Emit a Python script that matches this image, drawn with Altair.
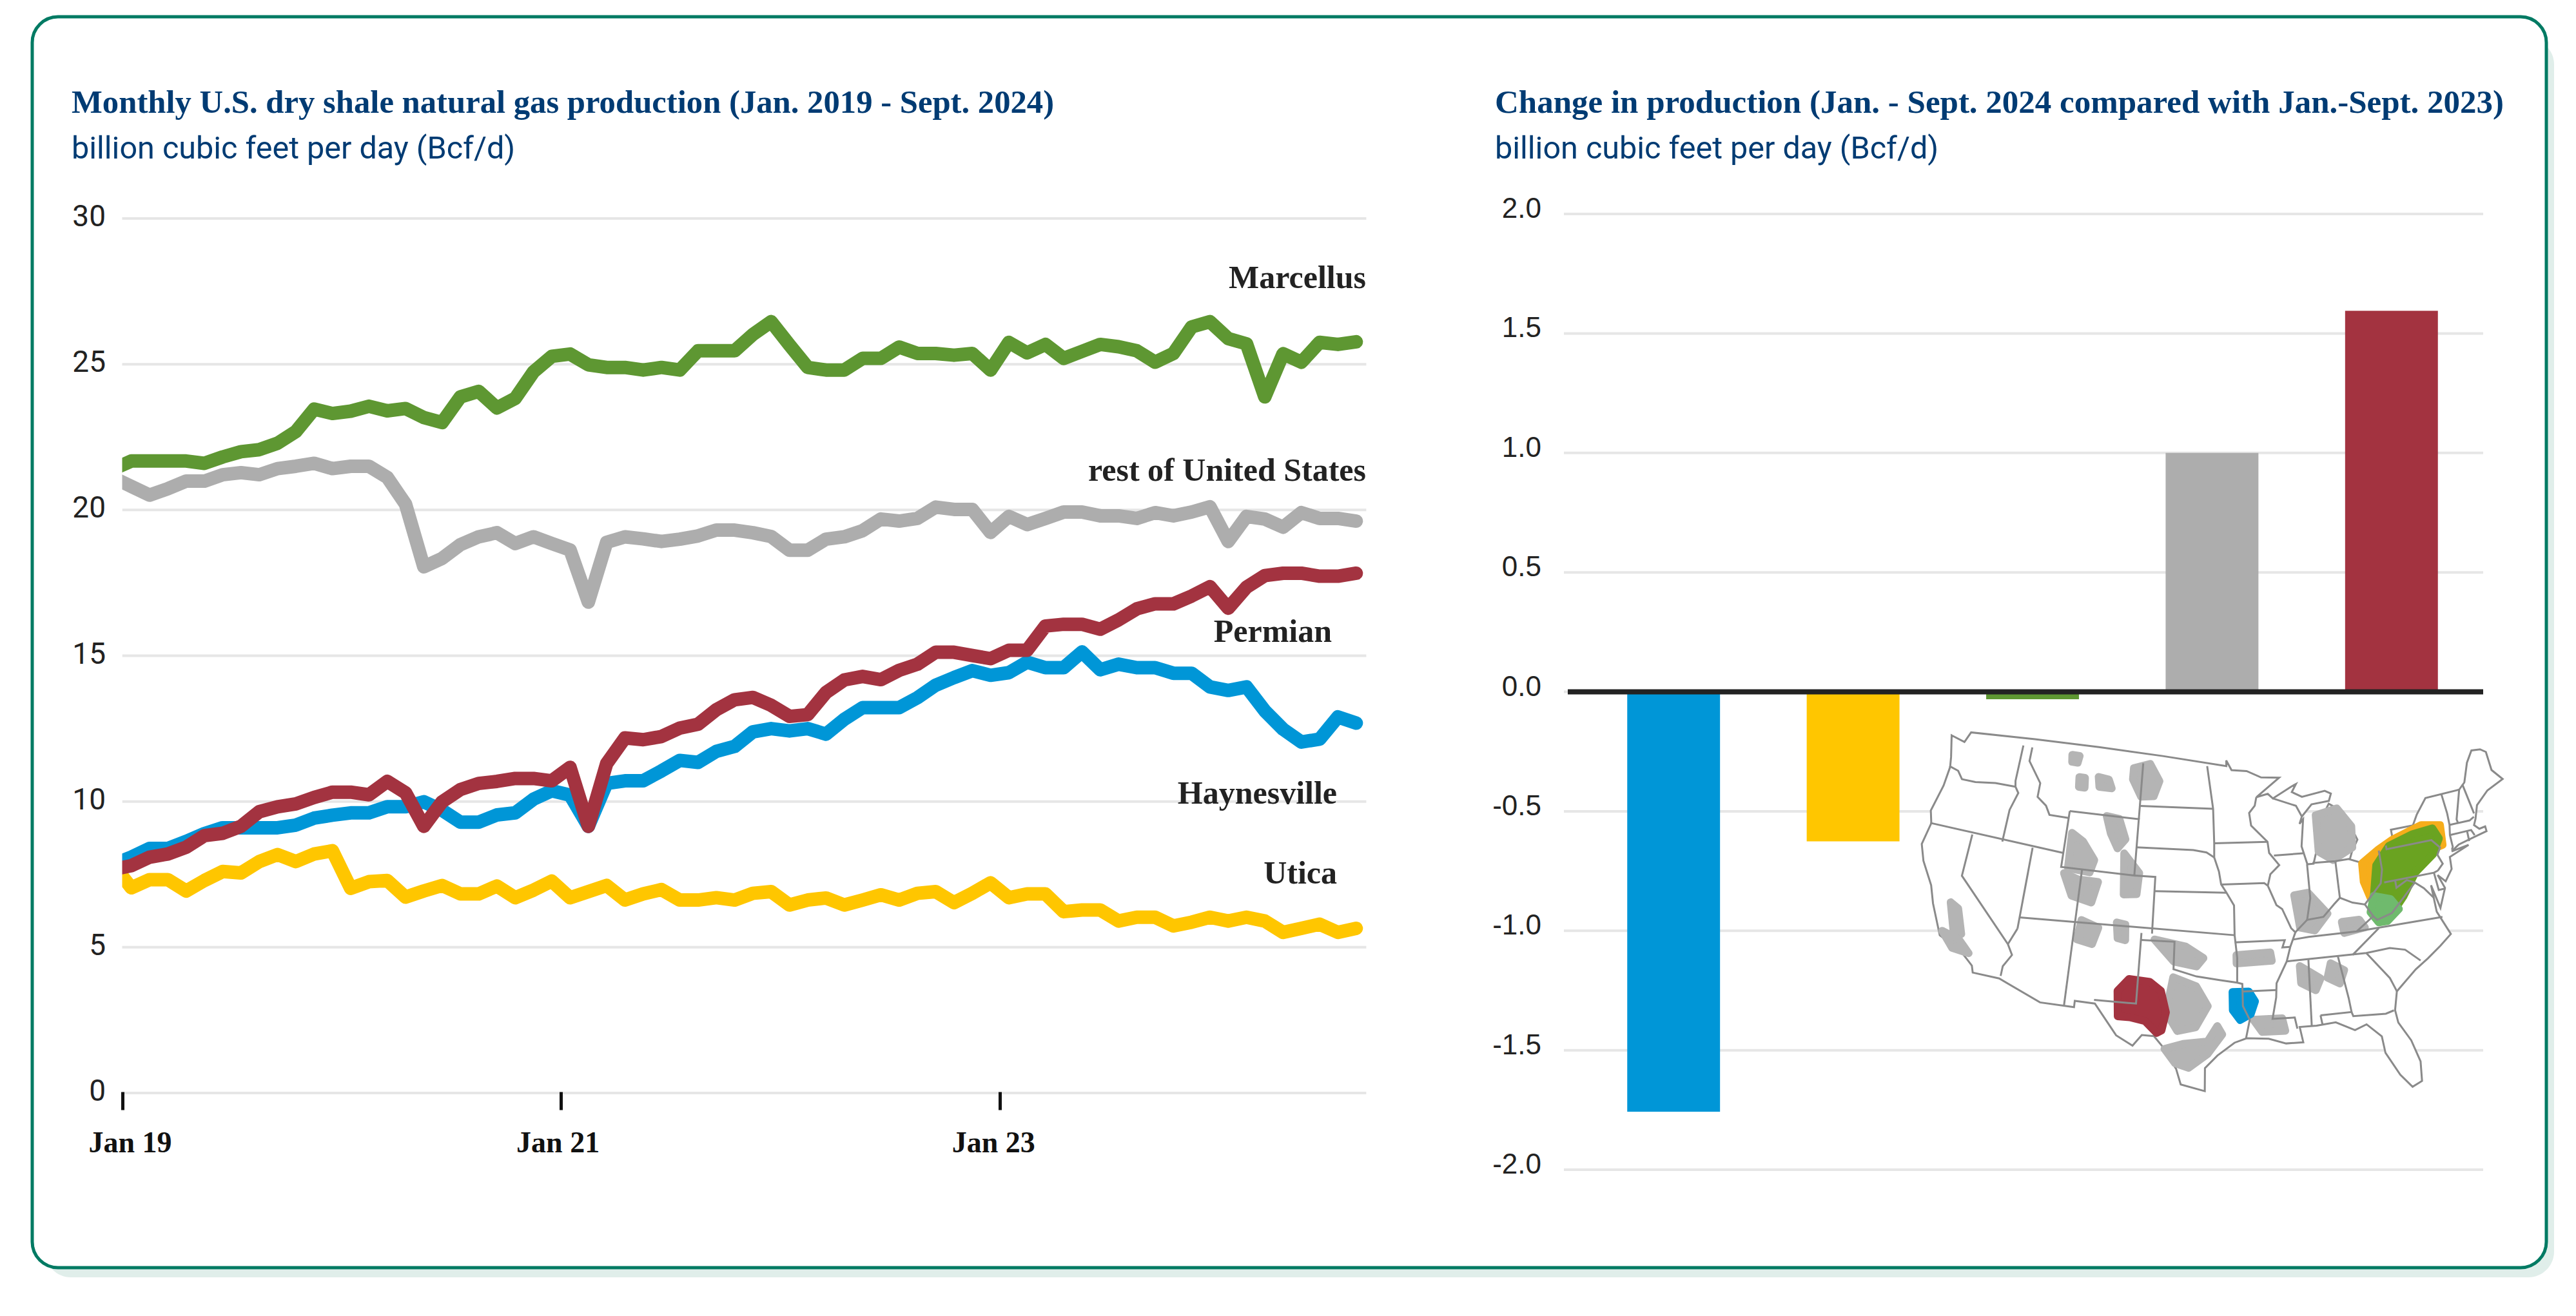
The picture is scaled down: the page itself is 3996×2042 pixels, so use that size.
import altair as alt
import pandas as pd

# ---------- data ----------
MARCELLUS = [21.4,21.68,21.68,21.68,21.68,21.6,21.82,22.0,22.07,22.29,22.69,23.46,23.31,23.39,23.56,23.4,23.48,23.17,23.0,23.88,24.07,23.5,23.83,24.74,
             25.27,25.35,24.98,24.89,24.89,24.8,24.89,24.8,25.46,25.46,25.46,26.02,26.46,25.66,24.89,24.8,24.8,25.2,25.2,25.59,25.37,25.37,
             25.31,25.37,24.8,25.75,25.39,25.68,25.2,25.44,25.68,25.6,25.46,25.07,25.37,26.28,26.46,25.88,25.7,23.88,25.36,25.07,25.75,25.68,25.77]
REST = [21.11,20.81,20.51,20.73,20.99,20.99,21.21,21.28,21.21,21.42,21.5,21.6,21.42,21.5,21.5,21.12,20.2,18.05,18.34,18.81,19.08,19.22,18.85,19.08,
        18.85,18.63,16.84,18.89,19.08,19.01,18.92,19.0,19.11,19.31,19.31,19.22,19.09,18.62,18.62,19.0,19.08,19.29,19.69,19.62,19.71,20.1,
        20.02,20.02,19.23,19.78,19.5,19.71,19.93,19.93,19.8,19.8,19.71,19.91,19.8,19.93,20.11,18.92,19.78,19.69,19.41,19.91,19.71,19.71,19.62]
HAYNESVILLE = [7.84,8.09,8.39,8.39,8.63,8.9,9.1,9.1,9.1,9.1,9.19,9.43,9.53,9.61,9.61,9.82,9.82,9.99,9.7,9.29,9.29,9.54,9.61,10.08,
               10.37,10.22,9.15,10.62,10.71,10.71,11.05,11.41,11.34,11.72,11.89,12.39,12.5,12.42,12.5,12.31,12.82,13.22,13.22,13.22,13.56,13.99,
               14.25,14.49,14.33,14.42,14.78,14.59,14.59,15.13,14.52,14.71,14.59,14.59,14.4,14.4,13.93,13.81,13.93,13.11,12.48,12.04,12.14,12.9,12.69]
PERMIAN = [7.67,7.8,8.09,8.2,8.43,8.83,8.91,9.15,9.65,9.82,9.92,10.14,10.32,10.32,10.23,10.69,10.3,9.15,9.99,10.41,10.62,10.69,10.79,10.79,
           10.71,11.17,9.15,11.3,12.18,12.12,12.23,12.52,12.65,13.15,13.49,13.57,13.3,12.92,12.98,13.74,14.17,14.29,14.18,14.5,14.71,15.12,
           15.12,15.01,14.9,15.19,15.19,16.02,16.08,16.08,15.91,16.23,16.61,16.78,16.78,17.05,17.37,16.63,17.35,17.75,17.83,17.83,17.73,17.73,17.83]
UTICA = [7.84,7.04,7.32,7.32,6.93,7.29,7.6,7.55,7.94,8.18,7.94,8.2,8.31,7.02,7.25,7.29,6.72,6.93,7.12,6.83,6.83,7.1,6.7,6.96,
         7.27,6.7,6.91,7.12,6.62,6.83,6.98,6.62,6.62,6.7,6.62,6.85,6.91,6.45,6.62,6.69,6.45,6.62,6.8,6.62,6.85,6.91,
         6.53,6.85,7.21,6.7,6.83,6.83,6.22,6.28,6.28,5.9,6.03,6.03,5.73,5.86,6.03,5.9,6.03,5.9,5.51,5.65,5.79,5.51,5.65]

REGIONS = ["Haynesville", "Utica", "Marcellus", "rest of United States", "Permian"]
CHANGE = [-1.757, -0.626, -0.031, 1.0, 1.595]
COLORS = ["#0096d7", "#ffc600", "#5e9732", "#adadad", "#a33340"]

LEFT_TICKS = [0, 5, 10, 15, 20, 25, 30]
LEFT_LABELS = ["0", "5", "10", "15", "20", "25", "30"]
RIGHT_TICKS = [-2.0, -1.5, -1.0, -0.5, 0.0, 0.5, 1.0, 1.5, 2.0]
RIGHT_LABELS = ["-2.0", "-1.5", "-1.0", "-0.5", "0.0", "0.5", "1.0", "1.5", "2.0"]
X_TICKS = [0.5, 24.5, 48.5]   # the source ticks sit half a month after the January point

TITLE_L = "Monthly U.S. dry shale natural gas production (Jan. 2019 -  Sept. 2024)"
TITLE_R = "Change in production (Jan. - Sept. 2024 compared with Jan.-Sept. 2023)"
SUB = "billion cubic feet per day (Bcf/d)"

# Inset map, lon/lat traced by eye
US = [(-124.7,48.4),(-123.2,48.2),(-122.8,49.0),(-95.15,49.0),(-95.15,49.4),(-94.6,48.7),(-93,48.6),(-91.5,48.1),(-89.6,48.0),(-92.1,46.7),(-90.9,46.9),(-90.4,46.55),(-88.4,47.3),(-87.9,47.45),(-88.4,46.9),(-87.4,46.5),(-85,46.75),(-84.4,46.5),(-84.7,46.0),(-86.5,45.9),(-87.6,45.1),(-87.9,44.6),(-87.5,44.9),(-87.9,43),(-87.5,41.7),(-86.9,41.7),(-86.3,43),(-86.5,44),(-85.5,45),(-84.75,45.8),(-83.4,45.1),(-83.4,44),(-83.9,43.7),(-82.9,44.05),(-82.4,43),(-83.1,42.2),(-83.4,41.7),(-82.5,41.4),(-81.2,41.8),(-79,42.7),(-79,43.3),(-76.8,43.3),(-76.2,44.0),(-75,45),(-71.5,45),(-70.8,45.4),(-70,46.7),(-69.2,47.45),(-68.3,47.35),(-67.8,47.05),(-67.8,45.7),(-67,44.85),(-68.8,44.4),(-70.2,43.6),(-70.7,42.7),(-71,42.3),(-70.6,41.95),(-70,42),(-70.0,41.65),(-71.2,41.5),(-72.9,41.25),(-73.7,40.9),(-72,41.05),(-74,40.55),(-74.1,39.7),(-74.9,38.95),(-75.5,39.5),(-75.1,38.5),(-75.9,37.2),(-76.3,38.9),(-76.3,37),(-75.5,35.25),(-76.6,34.6),(-77.9,33.9),(-79.1,33.3),(-81,32),(-81.4,30.7),(-81.3,29.8),(-80.5,28.4),(-80.05,26.8),(-80.2,25.4),(-81,25.1),(-81.8,26.1),(-82.7,27.8),(-82.8,29),(-83.9,30),(-84.9,29.7),(-86.4,30.4),(-88,30.3),(-89.4,30.3),(-89.2,29.2),(-90.6,29.2),(-92,29.6),(-93.8,29.7),(-94.8,29.4),(-96.2,28.5),(-97.2,27.6),(-97.2,25.95),(-99.1,26.4),(-99.5,27.5),(-100.7,29.1),(-101.4,29.77),(-102.4,29.8),(-103.1,29),(-104.5,29.65),(-106.5,31.75),(-108.2,31.78),(-108.2,31.33),(-111.07,31.33),(-114.8,32.5),(-117.1,32.53),(-117.3,33),(-118.4,33.75),(-120.6,34.55),(-121.9,36.6),(-122.5,37.8),(-123.8,39.3),(-124.4,40.4),(-124.1,42),(-124.5,42.85),(-124,44.8),(-123.9,46.2),(-124.1,46.9)]
BORDERS = [
 [(-124,46.25),(-123,46.1),(-122.4,45.6),(-121,45.65),(-119,45.93),(-116.92,46)],
 [(-117.03,49),(-117.04,46.4),(-116.92,46),(-116.5,45.6),(-117,44.3),(-117.03,42)],
 [(-124.2,42),(-111.05,42)],
 [(-120,42),(-120,39),(-114.63,35),(-114.1,34.3),(-114.7,33.4),(-114.72,32.7)],
 [(-114.63,35),(-114.05,36.2)],
 [(-114.05,42),(-114.05,36.2)],
 [(-114.05,37),(-94.62,37)],
 [(-116.05,49),(-116.05,48),(-114.5,46.6),(-114.5,45.6),(-113.5,45.1),(-113,44.5),(-111.05,44.5)],
 [(-111.05,45),(-104.05,45),(-104.05,41),(-111.05,41),(-111.05,45)],
 [(-109.05,41),(-109.05,31.33)],
 [(-104.05,41),(-102.05,41),(-102.05,37)],
 [(-103.0,37),(-103.05,32),(-106.6,32)],
 [(-103,36.5),(-100,36.5),(-100,34.56),(-98,34.1),(-96,33.85),(-94.48,33.65),(-94.04,33.55),(-94.04,31.99),(-93.5,31),(-93.85,29.7)],
 [(-94.62,37),(-94.43,35.4),(-94.48,33.65)],
 [(-104.05,49),(-104.05,45)],
 [(-104.05,45.94),(-96.56,45.94)],
 [(-104.05,43),(-98.5,43),(-97.2,42.85),(-96.45,42.5)],
 [(-102.05,40),(-95.3,40)],
 [(-97.2,49),(-96.56,45.94),(-96.45,43.5),(-96.45,42.5),(-96,41.5),(-95.8,40.6),(-95.3,40),(-94.62,39.1),(-94.62,37)],
 [(-96.45,43.5),(-91.2,43.5)],
 [(-95.77,40.58),(-91.73,40.6),(-91.4,40.4)],
 [(-94.62,36.5),(-90.15,36.5),(-90.4,36),(-89.7,36)],
 [(-92.1,46.7),(-92.3,46.1),(-92.9,45.6),(-92.75,44.7),(-91.2,43.5),(-91.1,42.7),(-90.2,41.8),(-91.1,41.2),(-91.4,40.4),(-90.7,39),(-90.2,38.7),(-89.5,37.3),(-89.15,37),(-89.7,36),(-90.1,35),(-91.1,33.5),(-91.2,32.5),(-91.6,31),(-89.75,31),(-89.6,30.2)],
 [(-94.04,33.02),(-91.2,33.02)],
 [(-90.65,42.5),(-87.8,42.5)],
 [(-90.4,46.55),(-88.1,45.9),(-87.6,45.1)],
 [(-87.53,41.7),(-87.53,39.3),(-88,37.8)],
 [(-89.15,37),(-88,37.8),(-86.5,37.9),(-85.4,38.7),(-84.8,39.1),(-83.7,38.65),(-82.6,38.4),(-81.8,39),(-80.85,39.7),(-80.52,40.64),(-80.52,42)],
 [(-84.8,39.1),(-84.8,41.7)],
 [(-87,41.76),(-84.8,41.7),(-83.45,41.73)],
 [(-79.76,42.27),(-79.76,42),(-75.35,42),(-74.7,41.36),(-75.1,40.9),(-74.8,40.2),(-75.4,39.8)],
 [(-80.52,39.72),(-75.79,39.72),(-75.4,39.8)],
 [(-75.79,39.72),(-75.7,38.46),(-75.05,38.46)],
 [(-79.48,39.72),(-79.48,39.2),(-78.4,39.6),(-77.72,39.32),(-77,38.8),(-76.3,38)],
 [(-77.72,39.32),(-78.9,38.5),(-80.3,37.5),(-81.7,37.2),(-82,37.5),(-82.6,38.4)],
 [(-82,37.5),(-83.68,36.6)],
 [(-89.4,36.5),(-88,36.6),(-83.68,36.6),(-75.9,36.55)],
 [(-90.1,35),(-83.1,35),(-81,35.1),(-79.7,34.8),(-78.55,33.85)],
 [(-81.68,36.6),(-84.3,35)],
 [(-83.1,35),(-81.4,33),(-81,32)],
 [(-88.2,35),(-88.4,30.3)],
 [(-85.6,35),(-85.1,32),(-85,31)],
 [(-87.6,31),(-85,31),(-84.9,30.7),(-82.2,30.55),(-81.5,30.7)],
 [(-87.6,31),(-87.5,30.3)],
 [(-73.35,45),(-73.25,43.6),(-73.3,42.75),(-73.5,42.05),(-73.5,41.2),(-73.65,41)],
 [(-71.5,45),(-72.5,43),(-72.45,42.73)],
 [(-73.3,42.75),(-71.3,42.7),(-70.8,42.87)],
 [(-73.5,42.05),(-71.4,42.02),(-71.2,41.6)],
 [(-71.8,42.02),(-71.85,41.3)],
 [(-71.05,45.3),(-70.7,43.1)],
]
GRAY_BLOBS = [
 [(-105,48.6),(-103.3,49),(-102.2,47.8),(-102.7,46.7),(-104,46.6),(-105,47.8)],
 [(-111.7,49),(-110.9,49),(-111,48.5),(-111.6,48.5)],
 [(-110.6,47.5),(-110,47.5),(-109.9,46.8),(-110.5,46.8)],
 [(-108.6,47.7),(-107.5,47.6),(-107.1,47),(-108.4,47)],
 [(-107.3,45),(-106,44.9),(-105.2,43.5),(-105.9,42.8),(-106.7,43.8)],
 [(-110.5,43.5),(-109.3,43),(-108,41.8),(-108.3,40.9),(-110.4,41)],
 [(-110.7,40.6),(-109.3,40.3),(-107.4,40.3),(-107.8,38.8),(-109.7,39.1)],
 [(-108.5,37.5),(-106.9,37.1),(-107.3,35.9),(-108.7,36.1)],
 [(-105.2,42.5),(-103.6,41.2),(-103.7,39.7),(-104.9,39.6)],
 [(-105.3,37.6),(-104.5,37.5),(-104.4,36.4),(-105.1,36.5)],
 [(-101.8,36.6),(-99,36.2),(-97.4,35.4),(-98,34.8),(-100,35.1)],
 [(-94.5,35.6),(-91.5,35.7),(-91.4,35.1),(-94.5,35)],
 [(-100,34),(-98,33.4),(-97,32),(-98,30.5),(-99.5,30.2),(-100.5,31.5)],
 [(-100.5,28.9),(-99,29.3),(-97,29.5),(-96.2,30.6),(-95.8,30),(-97,28.6),(-98.5,27.6),(-99.6,27.9)],
 [(-93.2,31),(-90.8,31),(-90.6,30.1),(-92.5,30.1)],
 [(-89,34.6),(-87.3,33.6),(-87.8,32.8),(-89,33.4)],
 [(-86.3,34.6),(-85.2,34),(-85.7,33.1),(-86.7,33.6)],
 [(-86.2,45.1),(-84,45.4),(-82.8,44),(-83,42.5),(-85,41.8),(-86.3,42.5)],
 [(-89,39.6),(-87.7,39.7),(-86.1,38.1),(-87.4,37),(-88.7,37.3)],
 [(-84.9,37.4),(-83.3,37.4),(-82.9,36.8),(-84.8,36.6)],
 [(-120.4,37),(-119.6,36.7),(-118.8,35),(-119.5,35)],
 [(-120.5,34.9),(-118.9,34.6),(-117.8,33.8),(-119.3,33.9)],
]
UTICA_BLOB = [(-82.3,41.3),(-80.5,42.1),(-79,42.6),(-76,43.2),(-74.2,42.9),(-74.4,41.5),(-78,41),(-80,39.5),(-81,38.4),(-82,38.8),(-82.4,40)]
MARCELLUS_BLOB = [(-81.7,38.8),(-81,41),(-79.5,42.2),(-77,42.7),(-75,42.8),(-74.6,42),(-75.5,41),(-77.5,40),(-79,38.5),(-80,37.7)]
MARCELLUS_SOUTH = [(-82.2,37.8),(-81.7,38.9),(-80.2,38.5),(-79.6,37.7),(-80.8,37),(-81.6,37)]
PERMIAN_BLOB = [(-104.7,32.8),(-103.8,33.7),(-102,33.6),(-101,33),(-100.5,31.5),(-100.8,30.2),(-101.2,30),(-102.2,30.8),(-103.5,31),(-104.5,31)]
HAYNESVILLE_BLOB = [(-94.9,33),(-93.5,33),(-93,32.3),(-93.4,31.4),(-94.3,31),(-94.9,31.7)]


# ---------- helpers ----------
def ring(points):
    """GeoJSON ring, wound clockwise as d3-geo expects for a small polygon."""
    area = sum(a[0] * b[1] - b[0] * a[1] for a, b in zip(points, points[1:] + points[:1]))
    pts = list(points) if area < 0 else list(reversed(points))
    return [list(p) for p in pts + pts[:1]]


def polygons(rings):
    return alt.Data(values=[{"type": "Feature", "properties": {},
                             "geometry": {"type": "Polygon", "coordinates": [ring(r)]}} for r in rings])


def line_features(lines):
    return alt.Data(values=[{"type": "Feature", "properties": {},
                             "geometry": {"type": "LineString", "coordinates": [list(p) for p in l]}} for l in lines])


ONE = alt.Data(values=[{"a": 1}])
W, H = 3980, 2026
OFF = 8  # page margin


def label(text, x, y, font, size, color, weight="normal", align="left"):
    return alt.Chart(ONE).mark_text(font=font, fontSize=size, fontWeight=weight, color=color,
                                    align=align, baseline="alphabetic").encode(
        x=alt.value(x - OFF), y=alt.value(y - OFF), text=alt.value(text))


# ---------- card ----------
shadow = alt.Chart(ONE).mark_rect(cornerRadius=40, color="#e0eeea").encode(
    x=alt.value(70 - OFF), x2=alt.value(3962 - OFF), y=alt.value(60 - OFF), y2=alt.value(1982 - OFF))
card = alt.Chart(ONE).mark_rect(cornerRadius=40, fill="white", stroke="#007a63", strokeWidth=5).encode(
    x=alt.value(50 - OFF), x2=alt.value(3950 - OFF), y=alt.value(26 - OFF), y2=alt.value(1967 - OFF))

# ---------- left panel ----------
SER_SCALE = alt.Scale(domain=REGIONS, range=COLORS)
lx = alt.Scale(domain=[0.5, 68.55], range=[189.5 - OFF, 2119.4 - OFF], nice=False, zero=False)
ly = alt.Scale(domain=[0, 30], range=[1696 - OFF, 339 - OFF], nice=False)
long = pd.DataFrame(
    [{"i": i, "v": v, "s": name}
     for name, vals in [("rest of United States", REST), ("Marcellus", MARCELLUS), ("Utica", UTICA),
                        ("Haynesville", HAYNESVILLE), ("Permian", PERMIAN)]
     for i, v in enumerate(vals)])
left_tick_df = pd.DataFrame({"v": LEFT_TICKS, "t": LEFT_LABELS})

left_grid = alt.Chart(left_tick_df).mark_rule(color="#e6e6e6", strokeWidth=4).encode(
    y=alt.Y("v:Q", scale=ly, axis=None),
    x=alt.value(189.5 - OFF), x2=alt.value(2119.4 - OFF))
left_tick_labels = alt.Chart(left_tick_df).mark_text(
    font="Roboto", fontSize=46, color="#222222", align="right", baseline="middle", dy=-2).encode(
    y=alt.Y("v:Q", scale=ly, axis=None), x=alt.value(164 - OFF), text="t:N")
left_lines = alt.Chart(long).mark_line(strokeWidth=21, strokeCap="round", strokeJoin="round").encode(
    x=alt.X("i:Q", scale=lx,
            axis=alt.Axis(orient="bottom", offset=-(H - (1694 - OFF)), title=None, values=X_TICKS, domain=False, grid=False, zindex=1,
                          tickColor="#111111", tickWidth=5, tickSize=28, labelPadding=29, labelFlush=False,
                          labelExpr="datum.value < 1 ? 'Jan 19' : datum.value < 25 ? 'Jan 21' : 'Jan 23'",
                          labelOffset=alt.expr("datum.value < 1 ? 12 : datum.value < 25 ? -5 : -10"),
                          labelFont="Liberation Serif", labelFontWeight="bold", labelFontSize=46, labelColor="#111111")),
    y=alt.Y("v:Q", scale=ly, axis=None),
    color=alt.Color("s:N", scale=SER_SCALE, legend=None),
    detail="s:N")
left_mask = alt.Chart(ONE).mark_rect(color="white").encode(
    x=alt.value(164 - OFF), x2=alt.value(189.5 - OFF), y=alt.value(690 - OFF), y2=alt.value(1420 - OFF))

NAVY = "#003b73"
DARK = "#222222"
SERIF = "Liberation Serif"
left_texts = [
    label(TITLE_L, 111, 175, SERIF, 50.7, NAVY, "bold"),
    label(SUB, 111, 246, "Roboto", 48.5, NAVY),
    label("Marcellus", 2119, 447, SERIF, 50, DARK, "bold", "right"),
    label("rest of United States", 2119, 746, SERIF, 50, DARK, "bold", "right"),
    label("Permian", 2066, 996, SERIF, 50, DARK, "bold", "right"),
    label("Haynesville", 2074, 1247, SERIF, 50, DARK, "bold", "right"),
    label("Utica", 2074, 1371, SERIF, 50, DARK, "bold", "right"),
]
left = alt.layer(left_grid, left_lines, left_mask, left_tick_labels, *left_texts)

# ---------- right panel ----------
rx = alt.Scale(domain=REGIONS, range=[2457 - OFF, 3849 - OFF], paddingInner=0.483, paddingOuter=0.2415)
ry = alt.Scale(domain=[-2, 2], range=[1815 - OFF, 332 - OFF], nice=False)
bars_df = pd.DataFrame({"region": REGIONS, "change": CHANGE})
right_tick_df = pd.DataFrame({"v": RIGHT_TICKS, "t": RIGHT_LABELS})

right_grid = alt.Chart(right_tick_df).mark_rule(color="#e6e6e6", strokeWidth=4).encode(
    y=alt.Y("v:Q", scale=ry, axis=None),
    x=alt.value(2426 - OFF), x2=alt.value(3852 - OFF))
right_tick_labels = alt.Chart(right_tick_df).mark_text(
    font="Liberation Sans", fontSize=44, color="#222222", align="right", baseline="middle", dy=-7).encode(
    y=alt.Y("v:Q", scale=ry, axis=None), x=alt.value(2391 - OFF), text="t:N")
bars = alt.Chart(bars_df).mark_bar().encode(
    x=alt.X("region:N", sort=REGIONS, scale=rx, axis=None),
    y=alt.Y("change:Q", scale=ry, axis=None),
    color=alt.Color("region:N", scale=SER_SCALE, legend=None))
zero = alt.Chart(pd.DataFrame({"v": [0]})).mark_rule(color="#222222", strokeWidth=8).encode(
    y=alt.Y("v:Q", scale=ry, axis=None), x=alt.value(2432 - OFF), x2=alt.value(3852 - OFF))

PROJ = alt.Projection(type="albers", rotate=[96.5, 0], center=[0, 38.7], parallels=[29.5, 45.5],
                      scale=1250, translate=[3426, 1406])


def geo(data, **mark):
    return alt.Chart(data).mark_geoshape(**mark).project(**PROJ.to_dict())


def blob(rings, color):
    return geo(polygons(rings), fill=color, stroke=color, strokeWidth=12, strokeJoin="round")


us_map = alt.layer(
    geo(polygons([US]), fill="white", stroke="#8a8a8a", strokeWidth=3),
    blob(GRAY_BLOBS, "#b4b4b4"),
    blob([UTICA_BLOB], "#f6ad1b"),
    blob([MARCELLUS_BLOB], "#6aa321"),
    blob([MARCELLUS_SOUTH], "#6fba6d"),
    blob([PERMIAN_BLOB], "#a33340"),
    blob([HAYNESVILLE_BLOB], "#0096d7"),
    geo(line_features(BORDERS), filled=False, stroke="#8a8a8a", strokeWidth=3),
)

right_texts = [
    label(TITLE_R, 2319, 175, SERIF, 51, NAVY, "bold"),
    label(SUB, 2319, 246, "Roboto", 48.5, NAVY),
]
right = alt.layer(right_grid, bars, zero, right_tick_labels, *right_texts)

chart = alt.layer(shadow, card, left, right, us_map).resolve_scale(
    x="independent", y="independent"
).properties(width=W, height=H, padding=0, autosize=alt.AutoSizeParams(type="none"), background="white"
).configure_view(stroke=None)

chart.save("out.html", embed_options={"renderer": "svg", "actions": False})
